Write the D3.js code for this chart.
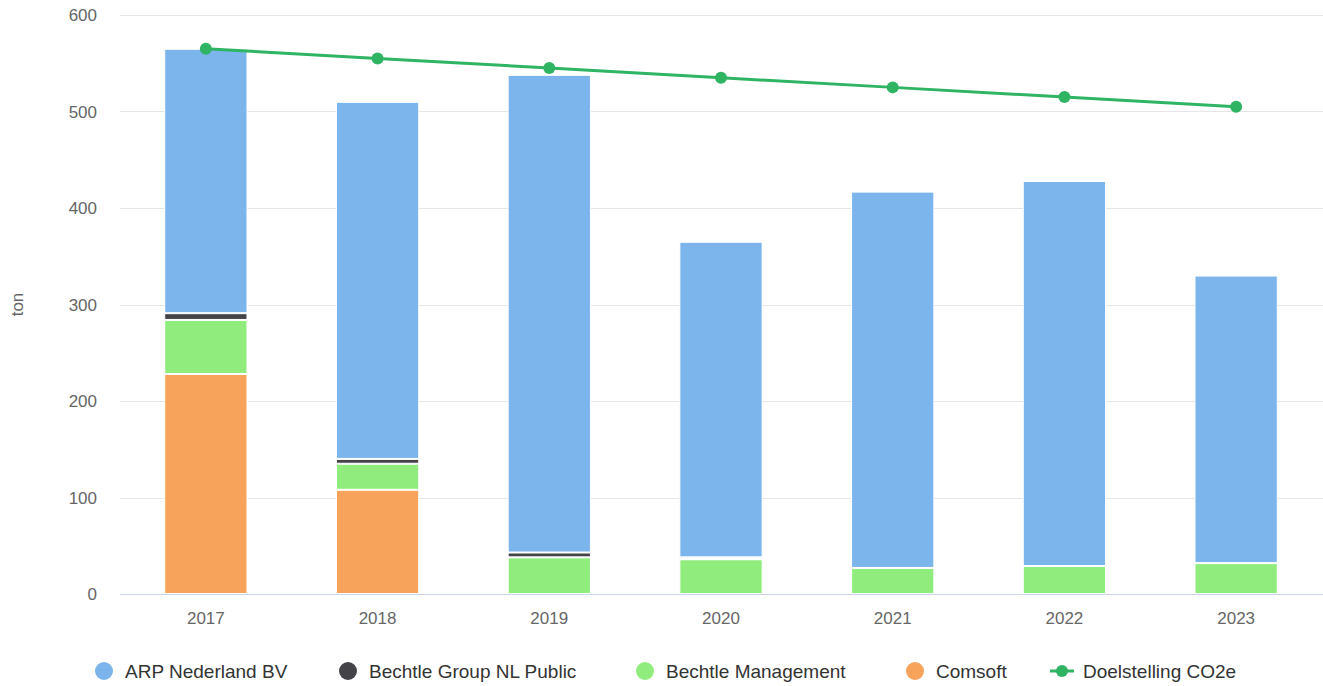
<!DOCTYPE html>
<html>
<head>
<meta charset="utf-8">
<script src="https://cdn.jsdelivr.net/npm/d3@7"></script>
<style>
  body { margin: 0; background: #fff; font-family: 'Liberation Sans', Arial, sans-serif; }
  svg text { font-family: 'Liberation Sans', Arial, sans-serif; }
</style>
</head>
<body>
<svg id="chart" width="1323" height="686"></svg>
<script>
const years = ['2017', '2018', '2019', '2020', '2021', '2022', '2023']
const arp = [274, 370, 495, 327, 390, 399, 298]
const groupPublic = [7, 5, 5, 2, 0, 0, 0]
const management = [56, 27, 38, 36, 27, 29, 32]
const comsoft = [228, 108, 0, 0, 0, 0, 0]
const target = [565, 555, 545, 535, 525, 515, 505]
const yTicks = [0, 100, 200, 300, 400, 500, 600]

const seriesNames = ['ARP Nederland BV', 'Bechtle Group NL Public', 'Bechtle Management', 'Comsoft', 'Doelstelling CO2e']
const colors = { arp: '#7cb5ec', groupPublic: '#434348', management: '#90ed7d', comsoft: '#f7a35c', target: '#2fb463' }

const svg = d3.select('#chart')
const plotLeft = 120
const plotRight = 1322
const plotTop = 15
const plotBottom = 594

const x = d3.scaleBand().domain(years).range([plotLeft, plotRight]).paddingInner(0.515).paddingOuter(0.2575)
const y = d3.scaleLinear().domain([0, 600]).range([plotBottom, plotTop])

// grid
svg.append('g')
  .selectAll('line')
  .data(yTicks)
  .join('line')
  .attr('x1', plotLeft)
  .attr('x2', plotRight + 1)
  .attr('y1', d => Math.round(y(d)) + 0.5)
  .attr('y2', d => Math.round(y(d)) + 0.5)
  .attr('stroke', d => d === 0 ? '#ccd6eb' : '#e6e6e6')
  .attr('stroke-width', 1)

// y labels
svg.append('g')
  .selectAll('text')
  .data(yTicks)
  .join('text')
  .attr('x', 97)
  .attr('y', d => y(d) + 6)
  .attr('text-anchor', 'end')
  .attr('fill', '#666666')
  .attr('font-size', 17)
  .text(d => d)

svg.append('text')
  .attr('transform', 'translate(23,' + ((plotTop + plotBottom) / 2) + ') rotate(-90)')
  .attr('text-anchor', 'middle')
  .attr('fill', '#666666')
  .attr('font-size', 17)
  .text('ton')

// x labels
svg.append('g')
  .selectAll('text')
  .data(years)
  .join('text')
  .attr('x', d => x(d) + x.bandwidth() / 2)
  .attr('y', 624)
  .attr('text-anchor', 'middle')
  .attr('fill', '#666666')
  .attr('font-size', 17)
  .text(d => d)

// stacked bars
const rows = years.map((yr, i) => ({ year: yr, comsoft: comsoft[i], management: management[i], groupPublic: groupPublic[i], arp: arp[i] }))
const stack = d3.stack().keys(['comsoft', 'management', 'groupPublic', 'arp'])
const layers = stack(rows)

svg.append('g')
  .selectAll('g')
  .data(layers)
  .join('g')
  .attr('fill', d => colors[d.key])
  .selectAll('rect')
  .data(d => d.filter(p => p[1] > p[0]))
  .join('rect')
  .attr('x', d => x(d.data.year) + 0.5)
  .attr('width', x.bandwidth() - 1)
  .attr('y', d => y(d[1]) + 0.5)
  .attr('height', d => Math.max(0, y(d[0]) - y(d[1]) - 1))
  .attr('stroke', '#ffffff')
  .attr('stroke-width', 1)

// target line
const line = d3.line()
  .x((d, i) => x(years[i]) + x.bandwidth() / 2)
  .y(d => y(d))

svg.append('path')
  .datum(target)
  .attr('d', line)
  .attr('fill', 'none')
  .attr('stroke', colors.target)
  .attr('stroke-width', 3)

svg.append('g')
  .selectAll('circle')
  .data(target)
  .join('circle')
  .attr('cx', (d, i) => x(years[i]) + x.bandwidth() / 2)
  .attr('cy', d => y(d))
  .attr('r', 6)
  .attr('fill', colors.target)

// legend
const legendX = [104, 348, 645, 915, 1062]
const legendKeys = ['arp', 'groupPublic', 'management', 'comsoft', 'target']
const legendY = 671
const legend = svg.append('g')
  .selectAll('g')
  .data(seriesNames)
  .join('g')
  .attr('transform', (d, i) => 'translate(' + legendX[i] + ',' + legendY + ')')

legend.each(function (d, i) {
  const g = d3.select(this)
  const c = colors[legendKeys[i]]
  if (legendKeys[i] === 'target') {
    g.append('line').attr('x1', -12).attr('x2', 12).attr('stroke', c).attr('stroke-width', 3)
    g.append('circle').attr('r', 6).attr('fill', c)
  } else {
    g.append('circle').attr('r', 9).attr('fill', c)
  }
  g.append('text')
    .attr('x', legendKeys[i] === 'target' ? 21 : 21)
    .attr('y', 7)
    .attr('fill', '#333333')
    .attr('font-size', 19)
    .text(d)
})
</script>
</body>
</html>
